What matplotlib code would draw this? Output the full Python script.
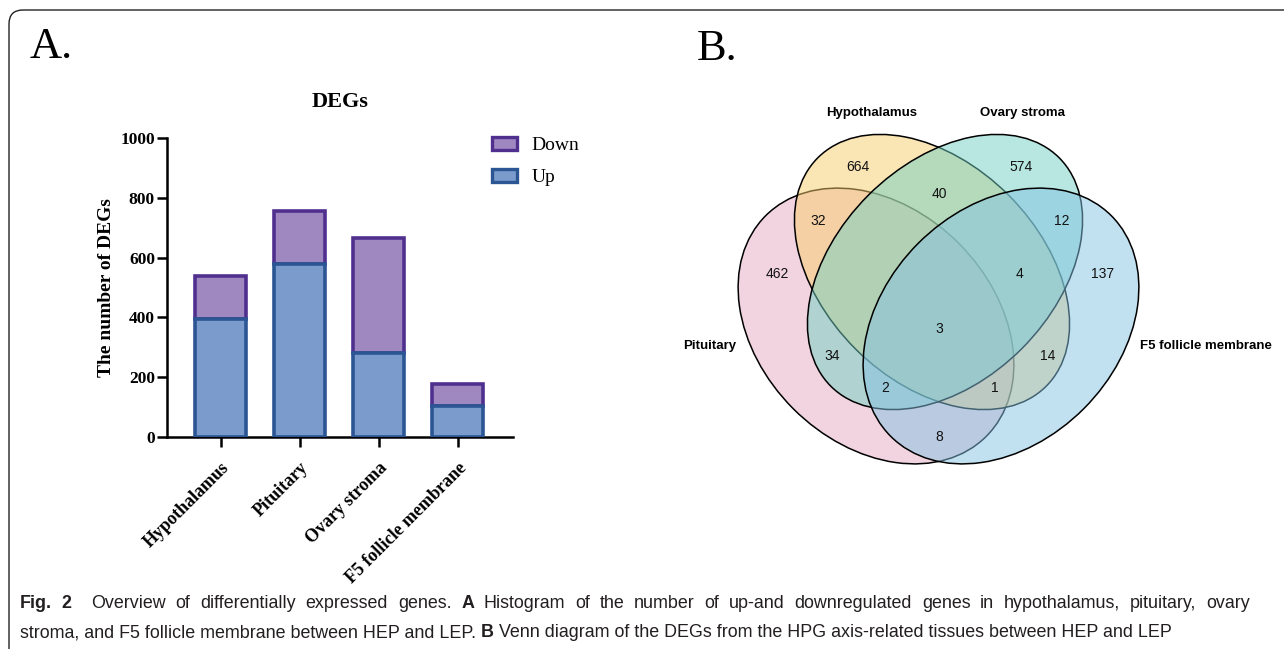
"""Fig. 2: DEG counts per tissue (stacked bars) plus 4-set Venn of shared DEGs."""
import re

import matplotlib
matplotlib.use("Agg")
import matplotlib.pyplot as plt
import matplotlib.transforms as mtransforms
import numpy as np
from matplotlib.patches import Ellipse, FancyBboxPatch, Patch

W, H = 1284, 649

# panel A data
TISSUES = ["Hypothalamus", "Pituitary", "Ovary stroma", "F5 follicle membrane"]
UP = [395, 580, 280, 104]
DOWN = [144, 176, 387, 74]
Y_TICKS = [0, 200, 400, 600, 800, 1000]

# panel B data: set names and region counts
SETS = ["Pituitary", "Hypothalamus", "Ovary stroma", "F5 follicle membrane"]
REGIONS = ["H", "O", "HO", "PH", "OF", "P", "HOF", "F", "PHOF", "PO", "HF", "POF", "PHF", "PF"]
COUNTS = [664, 574, 40, 32, 12, 462, 4, 137, 3, 34, 14, 2, 1, 8]

# layout (pixel coords of the original figure)
ELLIPSES = {  # center x, center y, width, height, angle, face colour
    "Pituitary": (876, 326, 312, 234, 45, "#e5abc1"),
    "Hypothalamus": (932, 272, 323, 217, 45, "#f7cd6b"),
    "Ovary stroma": (945, 272, 323, 217, -45, "#71d1c3"),
    "F5 follicle membrane": (1001, 326, 312, 234, -45, "#85c3e3"),
}
SET_LABEL_XY = {
    "Hypothalamus": (872, 113), "Ovary stroma": (1022, 113),
    "Pituitary": (710, 346), "F5 follicle membrane": (1206, 346),
}
REGION_XY = {
    "H": (858, 167), "O": (1021, 167), "HO": (939, 194), "PH": (818, 221),
    "OF": (1062, 221), "P": (777, 274), "HOF": (1020, 274), "F": (1103, 274),
    "PHOF": (939, 329), "PO": (832, 356), "HF": (1048, 356), "POF": (885, 388),
    "PHF": (995, 388), "PF": (939, 437),
}

# caption lines, **bold** runs; first line is justified
CAPTION = [
    "**Fig. 2**  Overview of differentially expressed genes. **A** Histogram of the number of "
    "up-and downregulated genes in hypothalamus, pituitary, ovary",
    "stroma, and F5 follicle membrane between HEP and LEP. **B** Venn diagram of the DEGs from "
    "the HPG axis-related tissues between HEP and LEP",
]

SERIF = ["Liberation Serif", "DejaVu Serif"]
SANS = ["Liberation Sans", "DejaVu Sans"]

fig = plt.figure(figsize=(W / 100, H / 100), dpi=100)

# pixel-space overlay for frame, panel letters, venn and caption
ov = fig.add_axes([0, 0, 1, 1])
ov.set_xlim(0, W)
ov.set_ylim(H, 0)
ov.axis("off")

ov.add_patch(FancyBboxPatch((9, 10), 1320, 660, boxstyle="round,pad=0,rounding_size=14",
                            fill=False, edgecolor="#222222", linewidth=1.0, clip_on=False))
ov.text(30, 58, "A.", family=SERIF, fontsize=32, va="baseline", ha="left")
ov.text(697, 60, "B.", family=SERIF, fontsize=32, va="baseline", ha="left")

# ---- panel A: stacked bars
ax = fig.add_axes([167 / W, 1 - 437 / H, 346 / W, 299 / H])
x = np.arange(len(TISSUES))
up = np.array(UP)
down = np.array(DOWN)
ax.bar(x, down, bottom=up, width=0.65, color="#9f88c0", edgecolor="#50308f",
       linewidth=2.6, label="Down", zorder=2)
ax.bar(x, up, width=0.65, color="#7a9bcb", edgecolor="#2b5593",
       linewidth=2.6, label="Up", zorder=3)
ax.set_xlim(-0.68, 3.70)
ax.set_ylim(0, 1000)
ax.set_yticks(Y_TICKS)
ax.set_xticks(x)
shift = mtransforms.ScaledTranslation(5 / 100, 0, fig.dpi_scale_trans)
ax.set_xticklabels(TISSUES, rotation=45, ha="right", va="top", rotation_mode="anchor",
                   family=SERIF, fontweight="bold", fontsize=13)
for lab in ax.get_xticklabels():
    lab.set_transform(lab.get_transform() + shift)
for lab in ax.get_yticklabels():
    lab.set_family(SERIF)
    lab.set_fontweight("bold")
    lab.set_fontsize(12.5)
for side in ("top", "right"):
    ax.spines[side].set_visible(False)
for side in ("left", "bottom"):
    ax.spines[side].set_linewidth(1.8)
ax.tick_params(direction="out", length=7.2, width=1.8)
ax.tick_params(axis="y", pad=1.5)
ax.tick_params(axis="x", pad=9)
ax.set_ylabel("The number of DEGs", family=SERIF, fontweight="bold", fontsize=14, labelpad=4)
ax.set_title("DEGs", family=SERIF, fontweight="bold", fontsize=16, pad=22)
ax.set_facecolor("none")
handles = [Patch(facecolor="#9f88c0", edgecolor="#50308f", linewidth=2.4, label="Down"),
           Patch(facecolor="#7a9bcb", edgecolor="#2b5593", linewidth=2.4, label="Up")]
ax.legend(handles=handles, loc="upper left", bbox_to_anchor=(492 / W, 1 - 137 / H),
          bbox_transform=fig.transFigure, frameon=False, borderpad=0, borderaxespad=0,
          handlelength=1.3, handleheight=0.65, labelspacing=0.75, handletextpad=0.75,
          prop={"family": SERIF, "size": 14})

# ---- panel B: venn
for name in SETS:
    cx, cy, w, h, ang, col = ELLIPSES[name]
    ov.add_patch(Ellipse((cx, cy), w, h, angle=ang,
                         facecolor=(*matplotlib.colors.to_rgb(col), 0.5),
                         edgecolor="black", linewidth=1.1))
for name in SETS:
    lx, ly = SET_LABEL_XY[name]
    ov.text(lx, ly, name, family=SANS, fontweight="bold", fontsize=9.5, ha="center", va="center")
for reg, n in zip(REGIONS, COUNTS):
    rx, ry = REGION_XY[reg]
    ov.text(rx, ry, str(n), family=SANS, fontsize=10, ha="center", va="center", color="#111111")

# ---- caption
renderer = fig.canvas.get_renderer()


def text_width(s, bold, size):
    t = ov.text(0, 0, s, family=SANS, fontsize=size, fontweight="bold" if bold else "normal")
    wd = t.get_window_extent(renderer).width
    t.remove()
    return wd


def space_width(size):
    return text_width("a a", False, size) - text_width("aa", False, size)


def split_words(line):
    out, pending = [], 0
    for i, part in enumerate(line.split("**")):
        for tok in re.findall(r"\s+|\S+", part):
            if tok.isspace():
                pending += len(tok)
            else:
                out.append((tok, i % 2 == 1, pending))
                pending = 0
    return out


def split_runs(line):
    # whole runs between bold markers; spaces at run edges go before the next run
    out, pending = [], 0
    for i, part in enumerate(line.split("**")):
        if not part.strip():
            pending += len(part)
            continue
        lead = len(part) - len(part.lstrip())
        out.append((part.strip(), i % 2 == 1, pending + lead))
        pending = len(part) - len(part.rstrip())
    return out


def natural_width(items, size):
    sp = space_width(size)
    return sum(text_width(w, b, size) + n * sp for w, b, n in items)


def draw_items(items, base_y, size, extra=0.0):
    sp = space_width(size)
    cur = 20
    for w, bold, n in items:
        cur += n * (sp + extra)
        ov.text(cur, base_y, w, family=SANS, fontsize=size, va="baseline", ha="left",
                fontweight="bold" if bold else "normal", color="#231f20")
        cur += text_width(w, bold, size)


# the ragged last line sets the size; the first line is justified to x=1250
last = split_runs(CAPTION[1])
cap_size = 10 * (1175 - 20) / natural_width(last, 10)
first = split_words(CAPTION[0])
stretch = (1250 - 20 - natural_width(first, cap_size)) / sum(n for _, _, n in first)
draw_items(first, 608, cap_size, stretch)
draw_items(last, 637, cap_size)

fig.savefig("out.png", dpi=100)
